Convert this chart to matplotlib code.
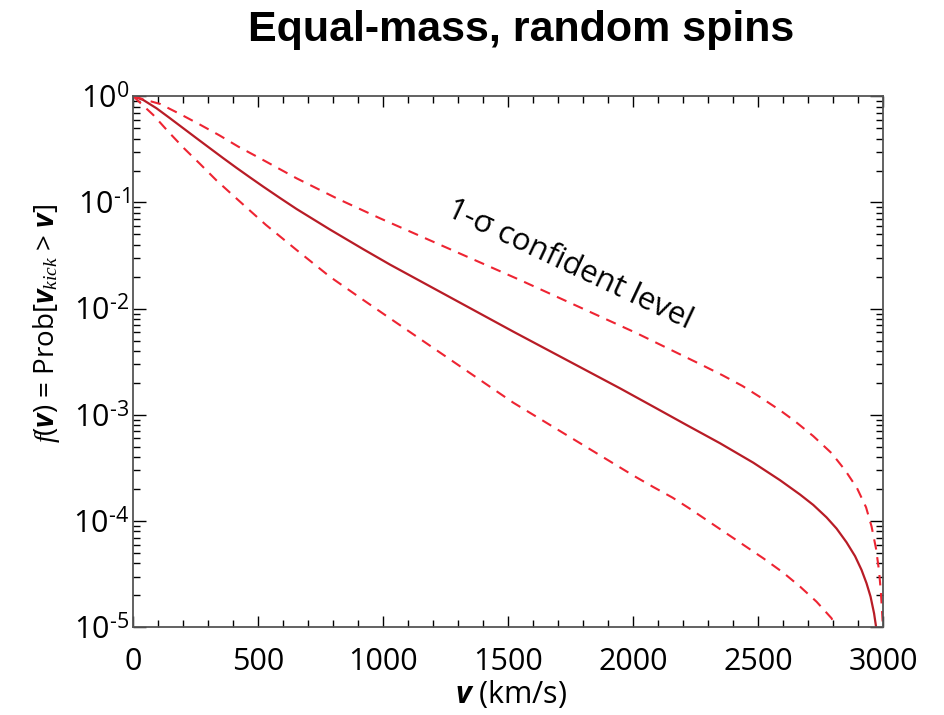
import numpy as np
import matplotlib
matplotlib.use("Agg")
import matplotlib.pyplot as plt
from matplotlib.ticker import MultipleLocator, LogLocator, NullFormatter, FuncFormatter

# ---- data ----
v_med = [0, 40, 93, 147, 200, 253, 307, 360, 413, 467, 520, 587, 653, 787, 920, 1027, 1520, 1947,
         2080, 2213, 2347, 2480, 2587, 2667, 2720, 2773, 2813, 2853, 2887, 2913, 2933, 2949, 2963, 2971]
logf_med = [0, -0.035, -0.113, -0.207, -0.301, -0.395, -0.49, -0.583, -0.674, -0.764, -0.851, -0.958,
            -1.061, -1.255, -1.44, -1.585, -2.216, -2.75, -2.922, -3.095, -3.267, -3.45, -3.615, -3.75,
            -3.848, -3.965, -4.07, -4.2, -4.33, -4.46, -4.586, -4.711, -4.868, -4.994]

v_up = [0, 40, 107, 187, 267, 344, 420, 500, 573, 653, 813, 987, 1547, 2013, 2277, 2357, 2437, 2509,
        2589, 2647, 2720, 2793, 2847, 2895, 2931, 2953, 2971, 2983, 2990, 2995, 2999]
logf_up = [0, -0.028, -0.072, -0.167, -0.267, -0.367, -0.474, -0.575, -0.669, -0.772, -0.96, -1.149,
           -1.73, -2.23, -2.533, -2.627, -2.728, -2.835, -2.96, -3.06, -3.2, -3.36, -3.52, -3.69, -3.87,
           -4.05, -4.26, -4.47, -4.66, -4.85, -5.02]

v_lo = [0, 27, 80, 140, 203, 267, 331, 397, 464, 531, 580, 653, 787, 920, 1020, 1520, 2003, 2080, 2157,
        2224, 2520, 2600, 2667, 2733, 2793, 2807]
logf_lo = [0, -0.06, -0.176, -0.333, -0.49, -0.637, -0.788, -0.929, -1.071, -1.212, -1.306, -1.447,
           -1.70, -1.918, -2.08, -2.885, -3.575, -3.679, -3.779, -3.88, -4.35, -4.486, -4.617, -4.759,
           -4.915, -4.98]

title = "Equal-mass, random spins"
note = "1-σ confident level"

plt.rcParams['font.family'] = ['Open Sans', 'DejaVu Sans']
plt.rcParams['mathtext.fontset'] = 'custom'
plt.rcParams['mathtext.rm'] = 'Open Sans'
plt.rcParams['mathtext.it'] = 'Liberation Serif:italic'
plt.rcParams['mathtext.bf'] = 'Open Sans:italic:bold'
plt.rcParams['lines.scale_dashes'] = False

W, H = 945, 715
fig = plt.figure(figsize=(W / 100, H / 100), dpi=100)
ax = fig.add_axes([133.3 / W, 1 - 627.3 / H, 750 / W, 531 / H])

c_med = '#b81c26'
c_sig = '#ee2432'
dash = (0, (7.5, 5.5))
ax.plot(v_med, 10 ** np.array(logf_med), color=c_med, lw=1.6)
ax.plot(v_up, 10 ** np.array(logf_up), color=c_sig, lw=1.5, linestyle=dash)
ax.plot(v_lo, 10 ** np.array(logf_lo), color=c_sig, lw=1.5, linestyle=dash)

ax.set_yscale('log')
ax.set_xlim(0, 3000)
ax.set_ylim(1e-5, 1)
ax.xaxis.set_major_locator(MultipleLocator(500))
ax.xaxis.set_minor_locator(MultipleLocator(100))
ax.yaxis.set_major_locator(LogLocator(base=10, numticks=10))
ax.yaxis.set_minor_locator(LogLocator(base=10, subs=np.arange(2, 10), numticks=20))
ax.yaxis.set_minor_formatter(NullFormatter())


def yfmt(val, pos):
    e = int(round(np.log10(val)))
    if e < 0:
        return r'$10^{\text{-%d}}$' % (-e)
    return r'$10^{%d}$' % e


ax.yaxis.set_major_formatter(FuncFormatter(yfmt))

ax.tick_params(which='both', direction='in', top=True, right=True, colors='black', width=1.0)
ax.tick_params(which='major', length=9.5, labelsize=22)
ax.tick_params(which='minor', length=5)
ax.tick_params(axis='x', which='major', length=8, pad=14)
ax.tick_params(axis='y', which='major', pad=3)
for s in ax.spines.values():
    s.set_color('#555555')
    s.set_linewidth(1.3)

fig.text(521.5 / W, 1 - 41 / H, title, ha='center', va='baseline',
         fontsize=31, fontweight='bold', family=['Liberation Sans', 'DejaVu Sans'])

fig.text(511 / W, 1 - 694 / H, r'$\mathbf{v}$ (km/s)', ha='center', va='center', fontsize=22)
fig.text(47 / W, 1 - 323 / H,
         r'$\mathit{f}$($\mathbf{v}$) = Prob[$\mathbf{v}_{\mathit{kick}}$ > $\mathbf{v}$]',
         ha='center', va='center', rotation=90, fontsize=20)

ax.text(1747, 10 ** -1.589, note, rotation=-25.2, ha='center', va='center',
        fontsize=22.5, rotation_mode='anchor')

fig.savefig('out.png', dpi=100)
